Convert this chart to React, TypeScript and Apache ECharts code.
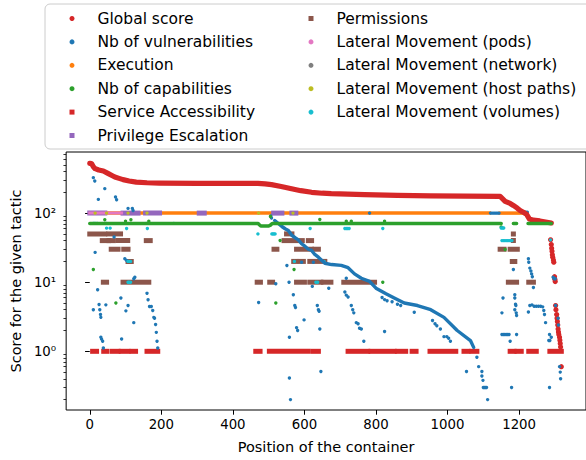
import React, { useEffect, useRef } from "react";
import * as echarts from "echarts";

// ---------- axes ----------
const xTicks = [0, 200, 400, 600, 800, 1000, 1200];
const xRange = [-66, 1387];
const yMajorTicks = [1, 10, 100];
const yMinorTicks = [
  0.2, 0.3, 0.4, 0.5, 0.6, 0.7, 0.8, 0.9,
  2, 3, 4, 5, 6, 7, 8, 9,
  20, 30, 40, 50, 60, 70, 80, 90,
  200, 300, 400, 500, 600, 700,
];
const yRange = [0.1415, 766];

// ---------- legend ----------
const legendCol1 = [
  "Global score",
  "Nb of vulnerabilities",
  "Execution",
  "Nb of capabilities",
  "Service Accessibility",
  "Privilege Escalation",
];
const legendCol2 = [
  "Permissions",
  "Lateral Movement (pods)",
  "Lateral Movement (network)",
  "Lateral Movement (host paths)",
  "Lateral Movement (volumes)",
];

// ---------- data ----------
// Global score: dense run drawn as a thick trace through read points
const globalScoreCurve: [number, number][] = [
  [0, 525], [5, 522], [10, 470], [15, 440], [25, 420], [38, 406], [52, 372],
  [62, 350], [70, 333], [82, 318], [93, 305], [110, 292], [130, 281], [160, 275],
  [195, 272], [300, 270], [470, 270], [490, 265], [508, 258], [535, 243],
  [564, 225], [590, 211], [620, 200], [650, 194], [675, 191], [768, 185],
  [860, 180], [953, 177], [1050, 176], [1147, 175], [1152, 165], [1161, 148],
  [1175, 138], [1184, 129], [1195, 118], [1203, 109], [1212, 103], [1221, 96],
  [1229, 82], [1240, 79], [1258, 77], [1290, 72],
];
const globalScoreTail: [number, number][] = [
  [1288, 41], [1290, 35], [1291, 31], [1292, 28], [1293, 25], [1294, 23],
  [1296, 21], [1297, 19.5], [1299, 12], [1300, 11], [1301, 10.2], [1302, 4.6],
  [1303, 4], [1305, 3.4], [1306, 3.0], [1307, 2.7], [1308, 2.4], [1309, 2.1],
  [1310, 1.9], [1311, 1.75], [1313, 1.6], [1314, 1.45], [1315, 1.3],
  [1316, 1.15], [1318, 0.6],
];

// Nb of vulnerabilities: main dense descending trace + sparse points
const vulnCurve: [number, number][] = [
  [517, 78], [537, 64], [546, 59.4], [555, 56], [565, 47.5], [574, 44],
  [583, 41], [592, 36], [602, 32.9], [611, 30], [620, 28.8], [629, 25.2],
  [639, 23], [657, 18.8], [676, 18], [703, 17.5], [722, 16.2], [740, 13.2],
  [759, 11.4], [782, 10.3], [800, 8.2], [828, 6.8], [851, 5.9], [879, 5.0],
  [916, 4.6], [953, 4.0], [990, 3.1], [1027, 2.0], [1064, 1.43], [1073, 1.14],
];
const vulnPoints: [number, number][] = [
  [10, 326], [14, 291], [24, 158], [42, 226], [72, 171], [75, 156], [107, 117],
  [119, 117], [121, 109], [15, 27], [68, 45], [98, 21.8], [103, 20.6],
  [123, 11.2], [126, 11.8], [22, 7.8], [10, 4.0], [26, 4.75], [28, 4.0],
  [30, 3.4], [31, 3.1], [45, 4.7], [87, 5.9], [101, 3.85], [107, 4.6],
  [123, 2.6], [31, 1.6], [33, 1.5], [36, 1.4], [38, 1.12], [89, 1.51],
  [160, 6.9], [163, 5.56], [167, 4.45], [172, 4.45], [176, 3.9], [179, 3.1],
  [181, 3.0], [184, 2.44], [186, 1.88], [188, 1.4], [190, 1.12],
  [472, 5.1], [506, 90.6], [508, 84.7], [520, 9.5], [551, 17.5], [557, 10],
  [558, 1.6], [558, 0.41], [561, 0.2], [569, 6.6], [573, 4.6], [575, 4.3],
  [578, 2.2], [581, 2.0], [599, 2.85], [592, 19.5], [625, 19.5], [622, 8.7],
  [636, 4.6], [639, 4.0], [641, 3.8], [643, 2.1], [646, 0.51], [668, 8.2],
  [717, 11.4], [713, 7.2], [717, 6.5], [722, 6.1], [731, 4.6], [735, 4.0],
  [738, 3.6], [745, 2.6], [750, 2.5], [754, 2.15], [759, 2.1], [766, 1.4],
  [782, 100], [817, 6.0], [824, 5.6], [831, 5.4], [845, 5.2], [860, 4.8],
  [869, 4.6], [824, 1.93], [907, 3.67], [958, 2.8], [965, 2.5], [970, 2.35],
  [980, 2.1], [990, 1.63], [998, 1.63], [1003, 1.55], [1008, 1.4],
  [1053, 0.51], [1082, 0.82], [1087, 0.6], [1096, 0.51], [1096, 0.44],
  [1099, 0.38], [1100, 0.3], [1103, 0.3], [1106, 0.3], [1109, 0.3],
  [1112, 0.2], [1120, 100], [1124, 100], [1128, 100], [1132, 100],
  [1136, 100], [1140, 100], [1144, 100], [1152, 3.6], [1155, 5.9],
  [1152, 1.75], [1156, 1.75], [1160, 1.75], [1164, 1.75], [1168, 1.75],
  [1172, 1.75], [1193, 1.75], [1175, 1.4], [1179, 0.3], [1184, 15.3],
  [1188, 6.6], [1188, 5.9], [1190, 4.8], [1191, 4.6], [1188, 4.0],
  [1192, 3.6], [1193, 3.3], [1207, 103], [1211, 103], [1215, 103],
  [1219, 103], [1223, 103], [1226, 21.8], [1227, 19.5], [1230, 16],
  [1233, 14.5], [1235, 13.2], [1237, 12], [1240, 8.4], [1226, 3.7],
  [1230, 4.6], [1236, 4.7], [1242, 4.5], [1248, 4.5], [1254, 4.5],
  [1260, 4.5], [1266, 4.4], [1269, 3.9], [1271, 3.4], [1274, 2.6],
  [1283, 1.43], [1286, 1.43], [1285, 1.75], [1290, 1.6], [1295, 11.8],
  [1298, 11.2], [1301, 11.2], [1302, 4.6], [1309, 3.0], [1310, 2.4],
  [1313, 0.6], [1315, 0.5], [1316, 0.4], [1285, 0.3],
];

// Execution: runs at 100 [start, end]
const executionValue = 100;
const executionRuns: [number, number][] = [[0, 780], [785, 1117], [1147, 1205]];

// Nb of capabilities: dense trace at ~71 with a dip, plus sparse points
const capabilitiesTrace: [number, number | string][] = [
  [0, 71], [470, 71], [474, 68], [478, 65], [500, 65], [505, 67], [510, 71],
  [1150, 71], [1151, "-"], [1184, 71], [1193, 71], [1194, "-"], [1225, 71],
  [1290, 71],
];
const capabilitiesPoints: [number, number][] = [
  [10, 15.3], [42, 80], [73, 5.0], [100, 76.6], [115, 80], [165, 76],
  [505, 89.5], [520, 5.0], [532, 40.2], [571, 15.3], [643, 81], [717, 76],
  [731, 76], [824, 76], [819, 10], [1150, 63], [1161, 29.8],
];

// Service Accessibility: runs at 1 [start, end]
const serviceValue = 1;
const serviceRuns: [number, number][] = [
  [8, 19], [39, 47], [62, 79], [88, 107], [118, 128], [160, 190], [464, 476],
  [502, 611], [625, 639], [722, 777], [786, 851], [860, 883], [901, 912],
  [951, 1023], [1046, 1057], [1068, 1082], [1175, 1186], [1194, 1206],
  [1227, 1248], [1286, 1318],
];

// Privilege Escalation: runs at 100
const privilegeValue = 100;
const privilegeRuns: [number, number][] = [
  [0, 42], [93, 135], [156, 195], [306, 320], [514, 537], [565, 576],
];

// Permissions: runs [start, end, value]
const permissionRuns: [number, number, number][] = [
  [0, 42, 50], [53, 86, 50], [550, 565, 50], [1184, 1184, 50],
  [35, 53, 40], [54, 66, 40], [79, 106, 40], [158, 169, 40], [543, 594, 40],
  [611, 620, 40], [1184, 1184, 40],
  [60, 79, 30], [95, 107, 30], [515, 523, 30], [578, 620, 30], [629, 639, 30],
  [1147, 1158, 30], [1175, 1195, 30],
  [107, 116, 20], [570, 576, 20], [588, 597, 20], [615, 657, 20],
  [1181, 1188, 20],
  [38, 47, 10], [93, 165, 10], [468, 477, 10], [503, 511, 10], [578, 600, 10],
  [615, 646, 10], [653, 674, 10], [710, 796, 10], [1170, 1193, 10],
  [1227, 1240, 10],
];

// Lateral Movement (pods): runs at 100
const podsValue = 100;
const podsRuns: [number, number][] = [[0, 40], [47, 89]];

// Lateral Movement (network): nothing visible
const networkPoints: [number, number][] = [];

// Lateral Movement (host paths)
const hostPathPoints: [number, number][] = [
  [15, 100], [47, 100], [107, 100], [160, 100], [472, 100], [568, 100],
];

// Lateral Movement (volumes)
const volumePoints: [number, number][] = [
  [10, 71], [13, 71], [17, 71], [21, 71], [47, 71], [47, 60.6], [57, 60.6],
  [103, 60], [158, 71], [161, 60], [235, 71], [107, 20], [110, 20], [114, 20],
  [107, 10], [110, 10], [114, 10], [470, 50], [509, 50], [512, 50], [515, 50],
  [518, 50], [572, 20], [632, 10], [616, 60], [713, 60], [717, 60], [721, 60],
  [725, 60], [819, 60], [655, 20], [637, 10], [1150, 61], [1154, 61],
  [1157, 61], [1152, 40], [1156, 40], [1160, 40], [1164, 40], [1168, 40],
  [1172, 40], [1176, 40], [1180, 40], [1288, 41],
];

// ---------- colors ----------
const C = {
  red: "#d62728",
  blue: "#1f77b4",
  orange: "#ff7f0e",
  green: "#2ca02c",
  purple: "#9467bd",
  brown: "#8c564b",
  pink: "#e377c2",
  gray: "#7f7f7f",
  olive: "#bcbd22",
  cyan: "#17becf",
};

const FONT = "DejaVu Sans";

function runSeries(name: string, color: string, rows: number[][], thick: number) {
  return {
    type: "custom",
    name,
    coordinateSystem: "cartesian2d",
    silent: true,
    clip: true,
    itemStyle: { color },
    encode: { x: [0, 1], y: 2 },
    data: rows,
    renderItem: (_params: any, api: any) => {
      const a = api.coord([api.value(0), api.value(2)]);
      const b = api.coord([api.value(1), api.value(2)]);
      return {
        type: "rect",
        shape: {
          x: a[0] - thick / 2,
          y: a[1] - thick / 2,
          width: b[0] - a[0] + thick,
          height: thick,
        },
        style: { fill: color },
      };
    },
  };
}

function scatterSeries(name: string, color: string, data: number[][], size: number, symbol = "circle") {
  return {
    type: "scatter",
    name,
    symbol,
    symbolSize: size,
    silent: true,
    itemStyle: { color, opacity: 1 },
    data,
  };
}

function traceSeries(name: string, color: string, data: any[], width: number) {
  return {
    type: "line",
    name,
    showSymbol: false,
    symbol: "none",
    silent: true,
    connectNulls: false,
    itemStyle: { color },
    lineStyle: { color, width, cap: "round", join: "round" },
    data,
  };
}

const supers: Record<string, string> = { "-1": "⁻¹", "0": "⁰", "1": "¹", "2": "²", "3": "³" };

function legendItem(name: string, color: string, icon: string) {
  return { name, icon, itemStyle: { color } };
}

const legendBase = {
  orient: "vertical",
  top: 5,
  itemWidth: 5,
  itemHeight: 5,
  itemGap: 6.4,
  selectedMode: false,
  textStyle: {
    fontFamily: FONT,
    fontSize: 15.5,
    color: "#000",
    lineHeight: 17,
    padding: [0, 0, 0, 18],
  },
  z: 10,
};

export default function App() {
  const ref = useRef<HTMLDivElement>(null);
  useEffect(() => {
    if (!ref.current) return;
    const chart = echarts.init(ref.current, null, { renderer: "svg" });
    const option: any = {
      animation: false,
      textStyle: { fontFamily: FONT },
      grid: {
        left: 66,
        top: 152,
        right: -4,
        bottom: 50,
        show: true,
        borderColor: "#000",
        borderWidth: 1,
        backgroundColor: "transparent",
      },
      graphic: [
        {
          type: "rect",
          z: 5,
          shape: { x: 45, y: 4, width: 570, height: 145, r: 5 },
          style: { fill: "rgba(255,255,255,0.8)", stroke: "#cccccc", lineWidth: 1 },
        },
      ],
      legend: [
        {
          ...legendBase,
          left: 64.5,
          data: [
            legendItem(legendCol1[0], C.red, "circle"),
            legendItem(legendCol1[1], C.blue, "circle"),
            legendItem(legendCol1[2], C.orange, "circle"),
            legendItem(legendCol1[3], C.green, "circle"),
            legendItem(legendCol1[4], C.red, "rect"),
            legendItem(legendCol1[5], C.purple, "rect"),
          ],
        },
        {
          ...legendBase,
          left: 303.5,
          data: [
            legendItem(legendCol2[0], C.brown, "rect"),
            legendItem(legendCol2[1], C.pink, "circle"),
            legendItem(legendCol2[2], C.gray, "circle"),
            legendItem(legendCol2[3], C.olive, "circle"),
            legendItem(legendCol2[4], C.cyan, "circle"),
          ],
        },
      ],
      xAxis: {
        type: "value",
        min: xRange[0],
        max: xRange[1],
        name: "Position of the container",
        nameLocation: "middle",
        nameGap: 29,
        nameTextStyle: { fontFamily: FONT, fontSize: 14.5, color: "#000" },
        axisLine: { show: false },
        splitLine: { show: false },
        axisTick: {
          show: true,
          customValues: xTicks,
          length: 4.7,
          lineStyle: { color: "#000", width: 1 },
        },
        axisLabel: {
          customValues: xTicks,
          margin: 8,
          fontFamily: FONT,
          fontSize: 13.3,
          color: "#000",
          formatter: (v: number) => String(Math.round(v)),
        },
      },
      yAxis: [
        {
          type: "log",
          logBase: 10,
          min: yRange[0],
          max: yRange[1],
          position: "left",
          name: "Score for the given tactic",
          nameLocation: "middle",
          nameGap: 41,
          nameTextStyle: { fontFamily: FONT, fontSize: 14.5, color: "#000" },
          axisLine: { show: false },
          splitLine: { show: false },
          minorTick: { show: false },
          axisTick: {
            show: true,
            customValues: yMajorTicks,
            length: 4.7,
            lineStyle: { color: "#000", width: 1 },
          },
          axisLabel: {
            customValues: yMajorTicks,
            margin: 10,
            fontFamily: FONT,
            fontSize: 13.3,
            color: "#000",
            formatter: (v: number) => "10" + (supers[String(Math.round(Math.log10(v)))] || ""),
          },
        },
        {
          type: "log",
          logBase: 10,
          min: yRange[0],
          max: yRange[1],
          position: "left",
          axisLine: { show: false },
          splitLine: { show: false },
          axisLabel: { show: false },
          axisTick: {
            show: true,
            customValues: yMinorTicks,
            length: 2.7,
            lineStyle: { color: "#000", width: 0.8 },
          },
        },
      ],
      series: [
        traceSeries(legendCol1[0], C.red, globalScoreCurve, 5.2),
        scatterSeries(legendCol1[0], C.red, globalScoreTail, 5.2),
        traceSeries(legendCol1[1], C.blue, vulnCurve, 3.4),
        scatterSeries(legendCol1[1], C.blue, vulnPoints, 3.4),
        runSeries(legendCol1[2], C.orange, executionRuns.map((r) => [r[0], r[1], executionValue]), 3.5),
        traceSeries(legendCol1[3], C.green, capabilitiesTrace, 3.5),
        scatterSeries(legendCol1[3], C.green, capabilitiesPoints, 3.4),
        runSeries(legendCol1[4], C.red, serviceRuns.map((r) => [r[0], r[1], serviceValue]), 5),
        runSeries(legendCol1[5], C.purple, privilegeRuns.map((r) => [r[0], r[1], privilegeValue]), 5),
        runSeries(legendCol2[0], C.brown, permissionRuns, 5),
        runSeries(legendCol2[1], C.pink, podsRuns.map((r) => [r[0], r[1], podsValue]), 3),
        scatterSeries(legendCol2[2], C.gray, networkPoints, 3.4),
        scatterSeries(legendCol2[3], C.olive, hostPathPoints, 3.4),
        scatterSeries(legendCol2[4], C.cyan, volumePoints, 3.4),
      ],
    };
    chart.setOption(option);
    return () => chart.dispose();
  }, []);
  return (
    <div
      ref={ref}
      style={{ position: "absolute", left: 0, top: 0, width: 586, height: 460 }}
    />
  );
}
